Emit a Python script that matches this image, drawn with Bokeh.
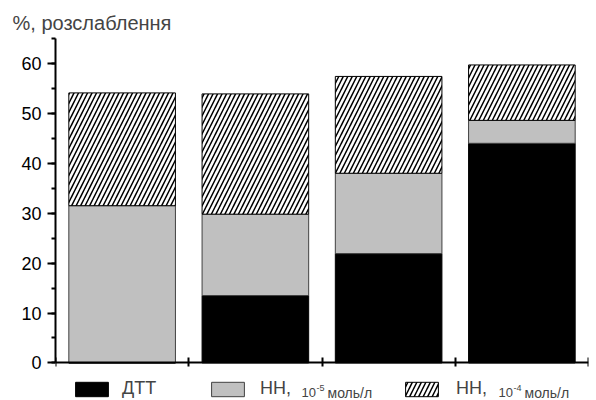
from bokeh.plotting import figure
from bokeh.models import (ColumnDataSource, Legend, LegendItem, Label, FixedTicker,
                          SingleIntervalTicker, Range1d)
from bokeh.embed import file_html
from bokeh.resources import INLINE

# ---- data -------------------------------------------------------------
positions = [1, 2, 3, 4]
dtt = [0.0, 13.5, 21.9, 44.0]          # ДТТ (black)
nn_1e5 = [31.5, 16.3, 16.1, 4.6]       # НН, 10^-5 моль/л (gray)
nn_1e4 = [22.6, 24.1, 19.4, 11.1]      # НН, 10^-4 моль/л (hatched)
y_title = "%, розслаблення"
legend_labels = ["ДТТ", "НН,", "НН,"]
conc_base = ["10", "10"]
conc_exp = ["-5", "-4"]
conc_unit = "моль/л"

FONT = "Liberation Sans"
fills = ["black", "#c0c0c0", "white"]
lines = ["black", "#404040", "black"]
hatches = [" ", " ", "/"]

src = ColumnDataSource(dict(x=positions, dtt=dtt, nn5=nn_1e5, nn4=nn_1e4))

# frame spans the full lower area so the legend (inside the frame) is not clipped
p = figure(width=596, height=400, output_backend="svg", toolbar_location=None,
           x_range=Range1d(0.5, 4.5), y_range=Range1d(-7.53, 65),
           x_axis_location="above",
           min_border_left=55, min_border_right=8, min_border_top=38,
           min_border_bottom=0, title=y_title)

rs = p.vbar_stack(["dtt", "nn5", "nn4"], x="x", width=0.8, source=src,
                  fill_color=fills, line_color=lines, hatch_pattern=hatches,
                  hatch_color="black", hatch_scale=9, hatch_weight=1.5,
                  line_width=1)

p.grid.visible = False
p.outline_line_color = None

# x axis: fixed at y = 0, boundary ticks, no labels
p.xaxis.fixed_location = 0
p.xaxis.ticker = FixedTicker(ticks=[0.5, 1.5, 2.5, 3.5, 4.5])
p.xaxis.major_label_overrides = {0.5: "", 1.5: "", 2.5: "", 3.5: "", 4.5: ""}
p.xaxis.major_label_text_font_size = "1px"
p.xaxis.major_label_standoff = 0
p.xaxis.major_tick_in = 4
p.xaxis.major_tick_out = 5
p.xaxis.minor_tick_line_color = None
p.xaxis.axis_line_width = 2
p.xaxis.major_tick_line_width = 2

# y axis
p.yaxis.bounds = (0, 65)
p.yaxis.ticker = SingleIntervalTicker(interval=10, num_minor_ticks=2)
p.yaxis.major_tick_in = 0
p.yaxis.major_tick_out = 8
p.yaxis.minor_tick_in = 0
p.yaxis.minor_tick_out = 4
p.yaxis.axis_line_width = 2
p.yaxis.major_tick_line_width = 2
p.yaxis.minor_tick_line_width = 2
p.yaxis.major_label_text_font = FONT
p.yaxis.major_label_text_font_size = "18px"
p.yaxis.major_label_text_color = "black"
p.yaxis.major_label_standoff = 6

p.title.text_font = FONT
p.title.text_font_size = "20px"
p.title.text_font_style = "normal"
p.title.align = "left"
p.title.offset = -43
p.title.standoff = 9

# ---- legend (inside the frame, below the x axis) -----------------------
leg_x = [16, 152, 346]
leg_standoff = [10, 12, 14]
for i, r in enumerate(rs):
    leg = Legend(items=[LegendItem(label=legend_labels[i], renderers=[r])],
                 location=(leg_x[i], 1), orientation="horizontal",
                 glyph_width=41, glyph_height=18, label_standoff=leg_standoff[i],
                 padding=0, margin=0, border_line_color=None,
                 background_fill_alpha=0, label_text_font=FONT,
                 label_text_font_size="18px", label_height=18)
    p.add_layout(leg, "center")

base_x = [246, 443]
exp_x = [261, 458]
unit_x = [272, 469]
for i in range(2):
    p.add_layout(Label(x=base_x[i], y=8, x_units="screen", y_units="screen",
                       text=conc_base[i], text_font=FONT, text_font_size="13px",
                       text_baseline="alphabetic"))
    p.add_layout(Label(x=exp_x[i], y=13, x_units="screen", y_units="screen",
                       text=conc_exp[i], text_font=FONT, text_font_size="9px",
                       text_baseline="alphabetic"))
    p.add_layout(Label(x=unit_x[i], y=8, x_units="screen", y_units="screen",
                       text=conc_unit, text_font=FONT, text_font_size="14px",
                       text_baseline="alphabetic"))

open("out.html", "w").write(file_html(p, INLINE))
